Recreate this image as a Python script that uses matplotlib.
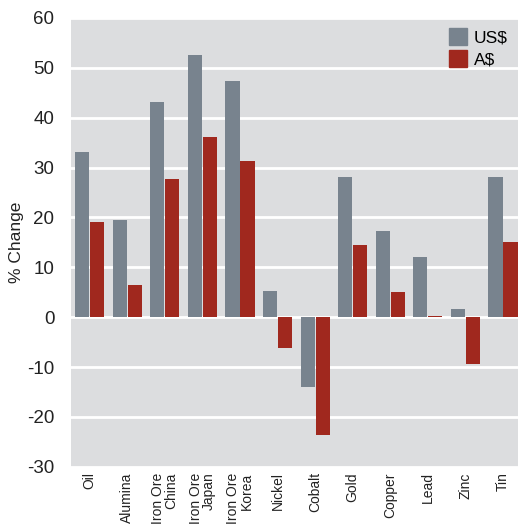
import numpy as np
import matplotlib.pyplot as plt
from matplotlib.patches import Patch

plt.rcParams['font.family'] = ['Liberation Sans', 'DejaVu Sans']
plt.rcParams['axes.unicode_minus'] = False

categories = ["Oil", "Alumina", "Iron Ore\nChina", "Iron Ore\nJapan", "Iron Ore\nKorea",
              "Nickel", "Cobalt", "Gold", "Copper", "Lead", "Zinc", "Tin"]
usd = [33.2, 19.4, 43.2, 52.6, 47.4, 5.2, -14.1, 28.1, 17.2, 12.0, 1.7, 28.1]
aud = [19.0, 6.4, 27.8, 36.2, 31.4, -6.2, -23.6, 14.5, 5.0, 0.3, -9.3, 15.0]

c_us = "#78838e"
c_au = "#a0281e"
bg = "#dcdddf"

fig = plt.figure(figsize=(5.18, 5.28), dpi=100)
ax = fig.add_axes([0.137, 0.116, 0.863, 0.850])
ax.set_facecolor(bg)

x = np.arange(len(categories))
w = 0.375
ax.bar(x - 0.2, usd, w, color=c_us, zorder=3)
ax.bar(x + 0.2, aud, w, color=c_au, zorder=3)

ax.set_ylim(-30, 60)
ax.set_xlim(-0.5, 11.4)
ax.set_yticks(range(-30, 61, 10))
ax.yaxis.grid(True, color="white", linewidth=2, zorder=1)
ax.set_axisbelow(True)
for s in ax.spines.values():
    s.set_visible(False)
ax.tick_params(axis="y", length=0, labelsize=13.5, pad=12, colors="#222222")
ax.set_ylabel("% Change", fontsize=12.5, labelpad=2, color="#222222")

ax.set_xticks(x)
ax.set_xticklabels(categories, rotation=90, fontsize=10, va="top", ha="center",
                   multialignment="right", color="#222222", linespacing=0.95)
ax.tick_params(axis="x", length=0, pad=4)

handles = [Patch(color=c_us), Patch(color=c_au)]
ax.legend(handles, ["US$", "A$"], loc="upper right", frameon=False, fontsize=12.5,
          handlelength=1.0, handleheight=1.1, handletextpad=0.4, labelspacing=0.25,
          borderaxespad=0.2, bbox_to_anchor=(1.0, 1.0))

fig.savefig("out.png", dpi=100)
